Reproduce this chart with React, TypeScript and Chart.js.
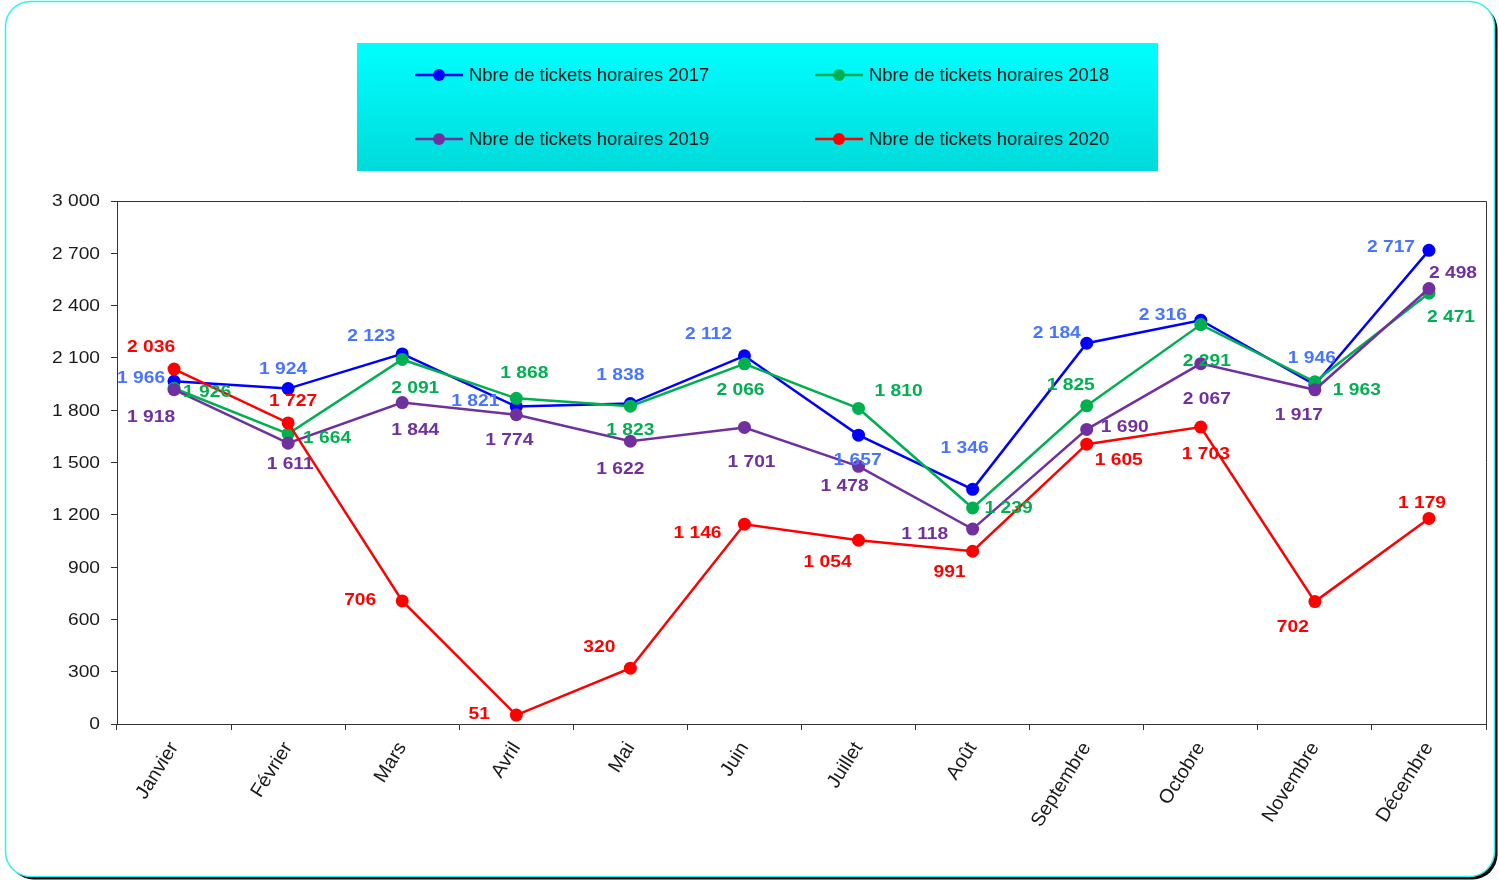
import { useEffect, useRef } from 'react';
import { Chart, registerables } from 'chart.js';

Chart.register(...registerables);

const months = ['Janvier', 'Février', 'Mars', 'Avril', 'Mai', 'Juin', 'Juillet', 'Août', 'Septembre', 'Octobre', 'Novembre', 'Décembre'];

const tickets2017 = [1966, 1924, 2123, 1821, 1838, 2112, 1657, 1346, 2184, 2316, 1946, 2717];
const tickets2018 = [1926, 1664, 2091, 1868, 1823, 2066, 1810, 1239, 1825, 2291, 1963, 2471];
const tickets2019 = [1918, 1611, 1844, 1774, 1622, 1701, 1478, 1118, 1690, 2067, 1917, 2498];
const tickets2020 = [2036, 1727, 706, 51, 320, 1146, 1054, 991, 1605, 1703, 702, 1179];

const seriesNames = [
  'Nbre de tickets horaires 2017',
  'Nbre de tickets horaires 2018',
  'Nbre de tickets horaires 2019',
  'Nbre de tickets horaires 2020',
];

const yTicks = { min: 0, max: 3000, step: 300 };

// label placement offsets (px) relative to each point
const labelOffsets2017 = [[-33, -4], [-5, -20], [-31, -18], [-41, -6], [-10, -29], [-36, -22], [-1, 24], [-8, -42], [-30, -11], [-38, -6], [-3, -27], [-38, -4]];
const labelOffsets2018 = [[33, 3], [39, 4], [13, 28], [8, -26], [0, 23], [-4, 26], [40, -18], [36, 0], [-16, -21], [6, 36], [42, 8], [22, 23]];
const labelOffsets2019 = [[-23, 27], [2, 20], [13, 27], [-7, 25], [-10, 27], [7, 34], [-14, 19], [-48, 4], [38, -3], [6, 35], [-16, 25], [24, -16]];
const labelOffsets2020 = [[-23, -22], [5, -22], [-42, -1], [-37, -2], [-31, -22], [-47, 8], [-31, 21], [-23, 20], [32, 15], [5, 26], [-22, 25], [-7, -16]];

const lineColors = ['#0000FF', '#00B050', '#7030A0', '#FF0000'];
const labelColors = ['#4775FF', '#00B050', '#7030A0', '#FF0000'];

const fmt = (v: number) => String(Math.round(v)).replace(/\B(?=(\d{3})+(?!\d))/g, ' ');

function roundRectPath(ctx: CanvasRenderingContext2D, x: number, y: number, w: number, h: number, r: number) {
  ctx.beginPath();
  ctx.moveTo(x + r, y);
  ctx.lineTo(x + w - r, y);
  ctx.arcTo(x + w, y, x + w, y + r, r);
  ctx.lineTo(x + w, y + h - r);
  ctx.arcTo(x + w, y + h, x + w - r, y + h, r);
  ctx.lineTo(x + r, y + h);
  ctx.arcTo(x, y + h, x, y + h - r, r);
  ctx.lineTo(x, y + r);
  ctx.arcTo(x, y, x + r, y, r);
  ctx.closePath();
}

const framePlugin = {
  id: 'frame',
  beforeDraw(chart: any) {
    const ctx = chart.ctx as CanvasRenderingContext2D;
    ctx.save();
    roundRectPath(ctx, 8.5, 4.5, 1489, 875, 25);
    ctx.fillStyle = '#000';
    ctx.fill();
    roundRectPath(ctx, 5.5, 1.5, 1489, 875, 25);
    ctx.fillStyle = '#fff';
    ctx.fill();
    ctx.strokeStyle = '#2EF2F2';
    ctx.lineWidth = 1.5;
    ctx.stroke();

    // legend box
    const lx = 357, ly = 43, lw = 801, lh = 128;
    const g = ctx.createLinearGradient(0, ly, 0, ly + lh);
    g.addColorStop(0, '#00FFFF');
    g.addColorStop(1, '#00DADA');
    ctx.fillStyle = g;
    ctx.fillRect(lx, ly, lw, lh);

    const pos = [[415, 75], [815, 75], [415, 139], [815, 139]];
    chart.data.datasets.forEach((ds: any, i: number) => {
      const [x, y] = pos[i];
      ctx.strokeStyle = ds.borderColor;
      ctx.lineWidth = 2.5;
      ctx.beginPath();
      ctx.moveTo(x, y);
      ctx.lineTo(x + 48, y);
      ctx.stroke();
      ctx.fillStyle = ds.borderColor;
      ctx.beginPath();
      ctx.arc(x + 24, y, 6, 0, Math.PI * 2);
      ctx.fill();
      ctx.fillStyle = '#1a1a1a';
      ctx.font = '18.4px "Liberation Sans", Arial, sans-serif';
      ctx.textAlign = 'left';
      ctx.textBaseline = 'middle';
      ctx.fillText(ds.label, x + 54, y + 1);
    });
    ctx.restore();
  },
  beforeDatasetsDraw(chart: any) {
    const { ctx, chartArea } = chart;
    ctx.save();
    ctx.strokeStyle = '#333';
    ctx.lineWidth = 1;
    ctx.beginPath();
    ctx.moveTo(chartArea.left, chartArea.top + 0.5);
    ctx.lineTo(chartArea.right + 0.5, chartArea.top + 0.5);
    ctx.lineTo(chartArea.right + 0.5, chartArea.bottom);
    ctx.stroke();
    ctx.restore();

    // y tick labels (slightly widened glyphs like the original)
    const ys = chart.scales.y;
    ctx.save();
    ctx.font = '16px "Liberation Sans", Arial, sans-serif';
    ctx.fillStyle = '#1a1a1a';
    ctx.textAlign = 'right';
    ctx.textBaseline = 'middle';
    ys.ticks.forEach((t: any) => {
      const py = ys.getPixelForValue(t.value);
      ctx.save();
      ctx.translate(100, py + 1);
      ctx.scale(1.2, 1);
      ctx.fillText(fmt(t.value), 0, 0);
      ctx.restore();
    });
    ctx.restore();
  },
};

const offsetsAll = [labelOffsets2017, labelOffsets2018, labelOffsets2019, labelOffsets2020];

const dataLabelPlugin = {
  id: 'dataLabels',
  afterDatasetsDraw(chart: any) {
    const ctx = chart.ctx as CanvasRenderingContext2D;
    ctx.save();
    ctx.font = 'bold 16px "Liberation Sans", Arial, sans-serif';
    ctx.textAlign = 'center';
    ctx.textBaseline = 'middle';
    chart.data.datasets.forEach((ds: any, i: number) => {
      const meta = chart.getDatasetMeta(i);
      ctx.fillStyle = labelColors[i];
      meta.data.forEach((el: any, j: number) => {
        const [dx, dy] = offsetsAll[i][j];
        ctx.save();
        ctx.translate(el.x + dx, el.y + dy + 1);
        ctx.scale(1.2, 1);
        ctx.fillText(fmt(ds.data[j]), 0, 0);
        ctx.restore();
      });
    });
    ctx.restore();
  },
};

export default function App() {
  const ref = useRef<HTMLCanvasElement>(null);
  useEffect(() => {
    document.body.style.margin = '0';
    document.body.style.overflow = 'hidden';
    const series = [tickets2017, tickets2018, tickets2019, tickets2020];
    const chart = new Chart(ref.current!, {
      type: 'line',
      data: {
        labels: months,
        datasets: series.map((d, i) => ({
          label: seriesNames[i],
          data: d,
          borderColor: lineColors[i],
          backgroundColor: lineColors[i],
          pointBackgroundColor: lineColors[i],
          pointBorderWidth: 0,
          pointRadius: 6.5,
          borderWidth: 2.5,
          tension: 0,
          fill: false,
          order: 4 - i,
        })),
      },
      options: {
        responsive: false,
        animation: false,
        events: [],
        layout: { padding: { left: 0, top: 201, right: 13, bottom: 0 } },
        plugins: { legend: { display: false }, tooltip: { enabled: false } },
        scales: {
          x: {
            offset: true,
            grid: { offset: true, drawOnChartArea: false, tickLength: 6, color: '#333' },
            border: { color: '#333' },
            ticks: {
              autoSkip: false,
              minRotation: 58,
              maxRotation: 58,
              padding: 8,
              color: '#1a1a1a',
              font: { family: '"Liberation Sans", Arial, sans-serif', size: 19.5 },
            },
            afterFit: (s: any) => { s.height = 158; },
          },
          y: {
            min: yTicks.min,
            max: yTicks.max,
            grid: { drawOnChartArea: false, tickLength: 6, color: '#333' },
            border: { color: '#333' },
            ticks: {
              stepSize: yTicks.step,
              display: false,
            },
            afterFit: (s: any) => { s.width = 117; },
          },
        },
      },
      plugins: [framePlugin, dataLabelPlugin],
    });
    return () => chart.destroy();
  }, []);
  return (
    <div style={{ width: 1499, height: 882 }}>
      <canvas ref={ref} width={1499} height={882} style={{ display: 'block' }} />
    </div>
  );
}
